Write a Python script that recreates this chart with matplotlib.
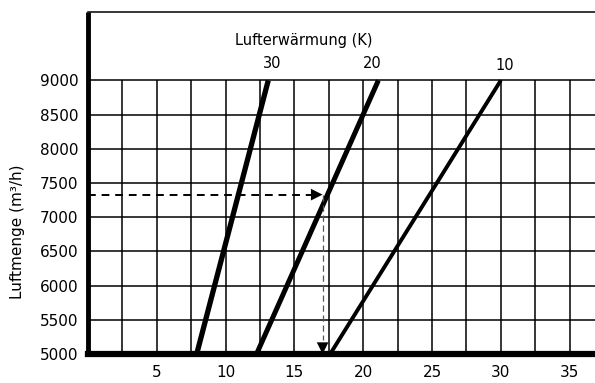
import matplotlib
matplotlib.use("Agg")
import matplotlib.pyplot as plt

# data
deltaT = [30, 20, 10]                     # Lufterwärmung (K)
line_x_start = [7.9, 12.25, 17.6]         # x at 5000 m³/h
line_x_end = [13.1, 21.1, 30.0]           # x at 9000 m³/h
line_y = [5000, 9000]
line_widths = [3.8, 3.6, 2.8]
x_ticks = [5, 10, 15, 20, 25, 30, 35]
y_ticks = [5000, 5500, 6000, 6500, 7000, 7500, 8000, 8500, 9000]
x_grid = [2.5 * i for i in range(1, 15)]
example_flow = 7330
example_x = 17.05

plt.rcParams['font.family'] = ['DejaVu Sans']
fig = plt.figure(figsize=(5.95, 3.83), dpi=100)
ax = fig.add_axes([88/595, 29/383, 1 - 88/595, (354-12)/383])
xmax = (595 - 88) / 13.76
ax.set_xlim(0, xmax)
ax.set_ylim(5000, 10000)

# grid
ax.vlines(x_grid, 5000, 9000, colors='black', linewidth=1.1, zorder=1)
for yv in y_ticks[1:]:
    ax.axhline(yv, color='black', linewidth=1.1, zorder=1)

# lines
for dt, x0, x1, lw in zip(deltaT, line_x_start, line_x_end, line_widths):
    ax.plot([x0, x1], line_y, color='black', linewidth=lw, solid_capstyle='butt', zorder=3)

# label numbers
label_pos = [(272, 63), (372, 63), (505, 65)]
for dt, (px, py) in zip(deltaT, label_pos):
    fig.text(px/595, 1 - py/383, str(dt), ha='center', va='center', fontsize=10.5)
fig.text(304/595, 1 - 40/383, "Lufterwärmung (K)", ha='center', va='center', fontsize=10.5)

# example: dashed shafts
ax.plot([0, example_x - 0.6], [example_flow, example_flow], color='black',
        linestyle=(0, (4, 3)), linewidth=1.4, zorder=4)
ax.plot([example_x, example_x], [example_flow, 5200], color='#555555',
        linestyle=(0, (5, 3)), linewidth=0.9, zorder=4)
# solid arrowheads
ax.annotate("", xy=(example_x, example_flow), xytext=(example_x - 1.5, example_flow),
            arrowprops=dict(arrowstyle='-|>', color='black', linewidth=0,
                            mutation_scale=21, shrinkA=0, shrinkB=0), zorder=5)
ax.annotate("", xy=(example_x, 5000), xytext=(example_x, 5600),
            arrowprops=dict(arrowstyle='-|>', color='black', linewidth=0,
                            mutation_scale=21, shrinkA=0, shrinkB=0), zorder=5)

# spines
ax.spines['right'].set_visible(False)
ax.spines['top'].set_linewidth(1.1)
ax.spines['left'].set_linewidth(3.5)
ax.spines['bottom'].set_linewidth(4.5)
ax.spines['left'].set_capstyle('butt')

ax.set_xticks(x_ticks)
ax.set_xticklabels([str(v) for v in x_ticks], fontsize=11)
ax.set_yticks(y_ticks)
ax.set_yticklabels([str(v) for v in y_ticks], fontsize=11)
ax.tick_params(axis='both', length=0)
ax.tick_params(axis='x', pad=8)
ax.tick_params(axis='y', pad=7)

fig.text(18/595, 1 - 232/383, "Luftmenge (m³/h)", rotation=90, ha='center', va='center', fontsize=11)

fig.savefig("out.png", dpi=100)
